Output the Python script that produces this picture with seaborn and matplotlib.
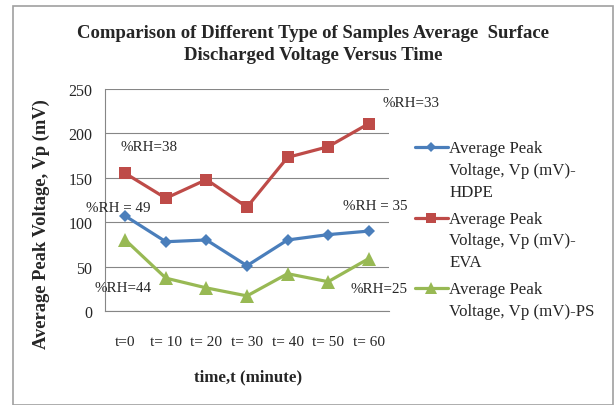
import matplotlib
matplotlib.use("Agg")
import matplotlib.pyplot as plt
import seaborn as sns
import pandas as pd
from matplotlib.patches import Rectangle

# data
times = ["t=0", "t= 10", "t= 20", "t= 30", "t= 40", "t= 50", "t= 60"]
hdpe = [107, 78, 80, 51, 80, 86, 90]
eva = [155, 127, 148, 117, 173, 185, 211]
ps = [80, 37, 26, 17, 42, 33, 59]
series_names = ["Average Peak\nVoltage, Vp (mV)-\nHDPE",
                "Average Peak\nVoltage, Vp (mV)-\nEVA",
                "Average Peak\nVoltage, Vp (mV)-PS"]
rh_labels = ["%RH=38", "%RH = 49", "%RH=44", "%RH=33", "%RH = 35", "%RH=25"]

sns.set_style("white")
plt.rcParams["font.family"] = ["Liberation Serif", "DejaVu Serif"]

fig = plt.figure(figsize=(6.14, 4.06), dpi=100)
ax = fig.add_axes([105/614, 1-312/406, 284/614, 222/406])

colors = ["#4A7EBB", "#BE4B48", "#98B954"]
marks = ["D", "s", "^"]
msizes = [6.5, 9, 10]
for name, vals, c, m, ms in zip(series_names, [hdpe, eva, ps], colors, marks, msizes):
    df = pd.DataFrame({"pos": range(len(times)), "Vp": vals})
    sns.lineplot(data=df, x="pos", y="Vp", color=c, marker=m, markersize=ms,
                 markeredgewidth=0, linewidth=2.3, label=name, ax=ax, zorder=3)

ax.set_xlim(-0.5, 6.5)
ax.set_ylim(0, 250)
ax.set_yticks(range(0, 251, 50))
ax.set_xticks(range(7))
ax.set_xticklabels(times)
ax.set_xticks([i - 0.5 for i in range(8)], minor=True)
ax.tick_params(axis="x", which="major", length=0, pad=17, labelsize=11)
ax.tick_params(axis="x", which="minor", length=5, color="#868686", direction="out")
ax.tick_params(axis="y", length=5, color="#868686", direction="out", labelsize=11.5, pad=4)
ax.yaxis.grid(True, color="#868686", linewidth=0.8)
for s in ["top", "right"]:
    ax.spines[s].set_visible(False)
for s in ["left", "bottom"]:
    ax.spines[s].set_color("#868686")

ax.set_xlabel("time,t (minute)", fontsize=12.2, fontweight="bold")
ax.xaxis.set_label_coords(0.503, -0.26)
ax.set_ylabel("Average Peak Voltage, Vp (mV)", fontsize=13.3, fontweight="bold")
ax.yaxis.set_label_coords(-0.194, 0.396)

fig.suptitle("Comparison of Different Type of Samples Average  Surface\nDischarged Voltage Versus Time",
             x=0.51, y=0.938, fontsize=13.5, fontweight="bold", linespacing=1.4)

# %RH annotations (data coords)
rh_pos = [(-0.13, 185), (-0.97, 117), (-0.77, 26), (6.35, 235), (5.37, 119), (5.54, 25)]
for txt, (px, py) in zip(rh_labels, rh_pos):
    ax.text(px, py, txt, fontsize=10.8, ha="left", va="center", clip_on=False)

handles, labels = ax.get_legend_handles_labels()
leg = ax.legend(handles, labels, loc="upper left", bbox_to_anchor=(1.09, 0.77),
                frameon=False, fontsize=12.2, handlelength=1.95, handleheight=1.1,
                labelspacing=0.65, handletextpad=0.1, borderaxespad=0, borderpad=0)
for t in leg.get_texts():
    t.set_linespacing(1.48)
for col in leg._legend_handle_box.get_children():
    for item in col.get_children():
        item.align = "top"
for h in leg.legend_handles:
    h.set_markersize(h.get_markersize() * 0.85)

fig.patches.append(Rectangle((13/614, 0.0), 600/614, 1-7/406, transform=fig.transFigure,
                             fill=False, edgecolor="#a0a0a0", linewidth=1.2))

fig.savefig("out.png", dpi=100)
